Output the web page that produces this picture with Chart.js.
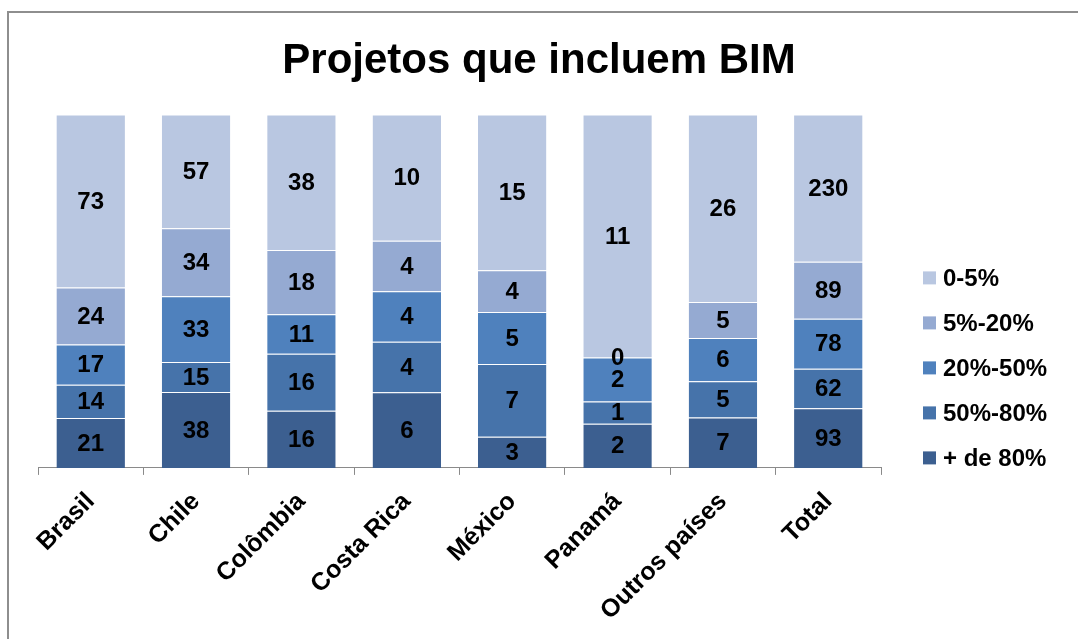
<!DOCTYPE html>
<html>
<head>
<meta charset="utf-8">
<script src="https://cdn.jsdelivr.net/npm/chart.js@4.4.0/dist/chart.umd.min.js"></script>
<style>
  html, body { margin: 0; padding: 0; background: #ffffff; }
  #wrap { position: relative; width: 1078px; height: 639px; overflow: hidden; }
  #frame { position: absolute; left: 7px; top: 11px; width: 1100px; height: 700px; border: 2px solid #8e8e8e; box-sizing: border-box; }
  #c { position: absolute; left: 0; top: 0; }
</style>
</head>
<body>
<div id="wrap">
  <div id="frame"></div>
  <canvas id="c" width="1078" height="639"></canvas>
</div>
<script>
const chartTitle = "Projetos que incluem BIM";
const categories = ["Brasil", "Chile", "Colômbia", "Costa Rica", "México", "Panamá", "Outros países", "Total"];
// series (bottom to top of each bar)
const seriesNames = ["+ de 80%", "50%-80%", "20%-50%", "5%-20%", "0-5%"];
const above80 = [21, 38, 16, 6, 3, 2, 7, 93];
const from50to80 = [14, 15, 16, 4, 7, 1, 5, 62];
const from20to50 = [17, 33, 11, 4, 5, 2, 6, 78];
const from5to20 = [24, 34, 18, 4, 4, 0, 5, 89];
const from0to5 = [73, 57, 38, 10, 15, 11, 26, 230];
const seriesColors = ["#3C5F90", "#4673AA", "#4F81BD", "#95AAD2", "#B9C7E1"];

const series = [above80, from50to80, from20to50, from5to20, from0to5];
const totals = categories.map((_, i) => series.reduce((s, arr) => s + arr[i], 0));

const FONT = "'Liberation Sans', Arial, sans-serif";

const datasets = series.map((arr, k) => ({
  label: seriesNames[k],
  data: arr.map((v, i) => v / totals[i] * 100),
  raw: arr,
  backgroundColor: seriesColors[k],
  borderColor: "rgba(255,255,255,0.28)",
  borderWidth: {top: 1, left: 0, right: 0, bottom: 0},
  borderSkipped: false,
  barPercentage: 0.65,
  categoryPercentage: 1.0
}));

const valueLabels = {
  id: 'valueLabels',
  afterDatasetsDraw(chart) {
    const ctx = chart.ctx;
    ctx.save();
    ctx.font = "bold 24px " + FONT;
    ctx.fillStyle = "#000000";
    ctx.textAlign = "center";
    ctx.textBaseline = "middle";
    chart.data.datasets.forEach((ds, di) => {
      const meta = chart.getDatasetMeta(di);
      meta.data.forEach((el, i) => {
        const p = el.getCenterPoint();
        ctx.fillText(String(ds.raw[i]), p.x, p.y + 1);
      });
    });
    ctx.restore();
  }
};

const sideLegend = {
  id: 'sideLegend',
  afterDraw(chart) {
    const ctx = chart.ctx;
    const area = chart.chartArea;
    const x0 = area.right + 42;
    const y0 = area.top + 164;
    const step = 45;
    ctx.save();
    ctx.font = "bold 24px " + FONT;
    ctx.textAlign = "left";
    ctx.textBaseline = "middle";
    const ds = chart.data.datasets.slice().reverse();
    ds.forEach((d, j) => {
      const y = y0 + j * step;
      ctx.fillStyle = d.backgroundColor;
      ctx.fillRect(x0, y - 7, 13, 13);
      ctx.fillStyle = "#000000";
      ctx.fillText(d.label, x0 + 20, y + 1);
    });
    ctx.restore();
  }
};

new Chart(document.getElementById('c'), {
  type: 'bar',
  data: { labels: categories, datasets: datasets },
  options: {
    responsive: false,
    animation: false,
    layout: { padding: { left: 38, right: 38, top: 0, bottom: 1 } },
    plugins: {
      legend: { display: false },
      tooltip: { enabled: false },
      title: {
        display: true,
        text: chartTitle,
        color: "#000000",
        font: { family: FONT, size: 42, weight: 'bold' },
        padding: { top: 36, bottom: 28 }
      }
    },
    scales: {
      x: {
        stacked: true,
        grid: { display: true, drawOnChartArea: false, offset: true, color: "#8a8a8a", tickLength: 7, lineWidth: 1 },
        border: { display: true, color: "#8a8a8a", width: 1 },
        ticks: {
          color: "#000000",
          font: { family: FONT, size: 25, weight: 'bold' },
          minRotation: 45, maxRotation: 45,
          autoSkip: false,
          padding: 12
        }
      },
      y: {
        stacked: true,
        position: 'right',
        min: 0, max: 100,
        grid: { display: false },
        border: { display: false },
        ticks: { display: false },
        afterFit(scale) { scale.width = 159; }
      }
    }
  },
  plugins: [valueLabels, sideLegend]
});
</script>
</body>
</html>
